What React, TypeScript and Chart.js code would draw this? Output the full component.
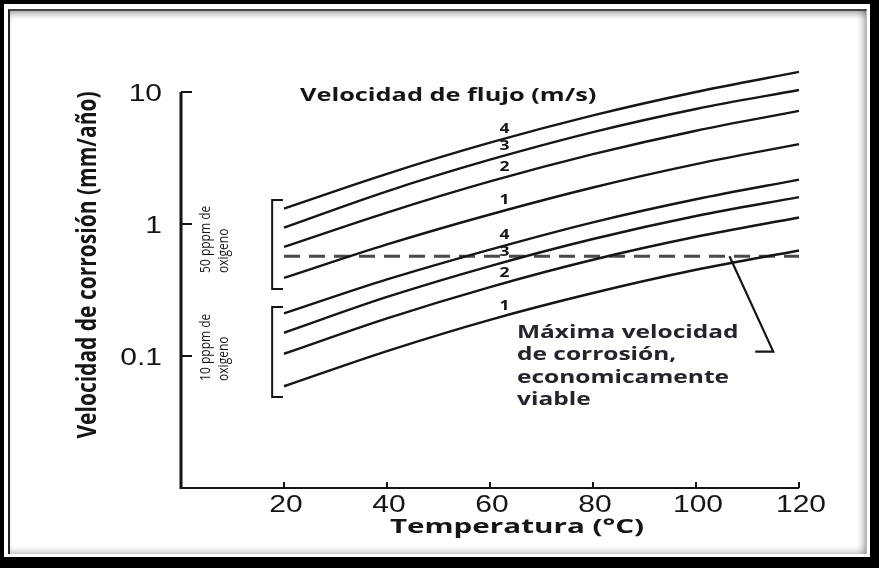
import { useEffect, useRef } from "react";
import { Chart, registerables } from "chart.js";

Chart.register(...registerables);

// Temperature (°C) at which each curve is read
const temperatures = [20, 40, 60, 80, 100, 120];

// Corrosion rate (mm/año), 50 ppm oxygen, flow velocity 4..1 m/s
const o50_v4 = [1.31, 2.4, 4.13, 6.65, 10.0, 14.2];
const o50_v3 = [0.94, 1.77, 3.07, 4.97, 7.44, 10.35];
const o50_v2 = [0.67, 1.22, 2.1, 3.38, 5.09, 7.19];
const o50_v1 = [0.39, 0.7, 1.18, 1.89, 2.84, 4.03];

// Corrosion rate (mm/año), 10 ppm oxygen, flow velocity 4..1 m/s
const o10_v4 = [0.21, 0.38, 0.64, 1.03, 1.54, 2.17];
const o10_v3 = [0.15, 0.28, 0.48, 0.77, 1.15, 1.6];
const o10_v2 = [0.104, 0.193, 0.333, 0.536, 0.8, 1.12];
const o10_v1 = [0.059, 0.109, 0.188, 0.3, 0.45, 0.63];

const flowLabels = ["4", "3", "2", "1", "4", "3", "2", "1"];

// Economic limit (dashed line)
const limitRate = 0.57;
const limitRange = [20, 120];

// Axis ticks
const xTicks = [20, 40, 60, 80, 100, 120];
const xTickLabels = ["20", "40", "60", "80", "100", "120"];
const yTicks = [10, 1, 0.1];
const yTickLabels = ["10", "1", "0.1"];

// Leader from the dashed line to the note (temperature, rate)
const leaderTemps = [106.5, 115, 111.5];
const leaderRates = [0.57, 0.108, 0.108];

// Oxygen group brackets (rate span)
const bracketSpans = [
  [1.52, 0.322],
  [0.235, 0.049],
];
const bracketTemps = [17.7, 19.8];
const groupLines = [
  ["50 pppm de", "oxigeno"],
  ["10 pppm de", "oxigeno"],
];

const noteLines = ["Máxima velocidad", "de corrosión,", "economicamente", "viable"];

const INK = "#151515";

function text(
  ctx: CanvasRenderingContext2D,
  s: string,
  x: number,
  y: number,
  font: string,
  align: CanvasTextAlign,
  color: string,
  sx = 1.25,
  rotate = false
) {
  ctx.save();
  ctx.translate(x, y);
  ctx.scale(sx, 1);
  if (rotate) ctx.rotate(-Math.PI / 2);
  ctx.font = font;
  ctx.fillStyle = color;
  ctx.textAlign = align;
  ctx.textBaseline = "middle";
  ctx.fillText(s, 0, 0);
  ctx.restore();
}

const decorations = {
  id: "decorations",
  afterDatasetsDraw(chart: any) {
    const { ctx, chartArea, scales } = chart;
    const xs = scales.x;
    const ys = scales.y;
    const { left, right, top, bottom } = chartArea;
    ctx.save();
    ctx.strokeStyle = INK;
    ctx.lineCap = "butt";

    // axes
    ctx.lineWidth = 3;
    ctx.beginPath();
    ctx.moveTo(left, top);
    ctx.lineTo(left, bottom + 1);
    ctx.stroke();
    ctx.lineWidth = 2;
    ctx.beginPath();
    ctx.moveTo(left, bottom);
    ctx.lineTo(right, bottom);
    ctx.stroke();

    // ticks pointing inward
    ctx.lineWidth = 2;
    yTicks.forEach((v, i) => {
      const y = ys.getPixelForValue(v);
      ctx.beginPath();
      ctx.moveTo(left, y);
      ctx.lineTo(left + 11, y);
      ctx.stroke();
      text(ctx, yTickLabels[i], left - 19, y + 2, "24px 'Liberation Sans'", "right", INK);
    });
    xTicks.forEach((v, i) => {
      const x = xs.getPixelForValue(v);
      ctx.beginPath();
      ctx.moveTo(x, bottom);
      ctx.lineTo(x, bottom - 6);
      ctx.stroke();
      text(ctx, xTickLabels[i], x + 2, bottom + 17, "24px 'Liberation Sans'", "center", INK);
    });

    // axis titles and heading
    text(ctx, "Temperatura (°C)", left + 336, bottom + 39, "bold 20px 'Open Sans'", "center", INK, 1.48);
    text(ctx, "Velocidad de corrosión (mm/año)", 88, 265, "bold 21px 'Open Sans'", "center", INK, 1.3, true);
    text(ctx, "Velocidad de flujo (m/s)", 300, 96, "bold 17px 'Open Sans'", "left", INK, 1.49);

    // oxygen group brackets and labels
    const bx0 = xs.getPixelForValue(bracketTemps[0]);
    const bx1 = xs.getPixelForValue(bracketTemps[1]);
    ctx.lineWidth = 2;
    bracketSpans.forEach((span, g) => {
      const y0 = ys.getPixelForValue(span[0]);
      const y1 = ys.getPixelForValue(span[1]);
      ctx.beginPath();
      ctx.moveTo(bx1, y0);
      ctx.lineTo(bx0, y0);
      ctx.lineTo(bx0, y1);
      ctx.lineTo(bx1, y1);
      ctx.stroke();
      const [l1, l2] = groupLines[g];
      text(ctx, l1, 206, y1 - 16, "12px 'Open Sans'", "left", INK, 1.2, true);
      text(ctx, l2, 224, y1 - 16, "12px 'Open Sans'", "left", INK, 1.2, true);
    });

    // flow velocity numbers on each curve
    const lx = xs.getPixelForValue(63);
    for (let d = 0; d < 8; d++) {
      const pts = chart.getDatasetMeta(d).data;
      const y = pts[2].y + 0.15 * (pts[3].y - pts[2].y);
      text(ctx, flowLabels[d], lx - 1, y - 10, "bold 14px 'Open Sans'", "center", INK);
    }

    // leader to the note
    ctx.lineWidth = 2.2;
    ctx.beginPath();
    leaderTemps.forEach((t, i) => {
      const x = xs.getPixelForValue(t);
      const y = ys.getPixelForValue(leaderRates[i]);
      if (i === 0) ctx.moveTo(x, y);
      else ctx.lineTo(x, y);
    });
    ctx.stroke();

    noteLines.forEach((s, i) => {
      text(ctx, s, 517, 333 + i * 22.5, "bold 17px 'Open Sans'", "left", "#24242c", 1.44);
    });
    ctx.restore();
  },
};

function series(values: number[]) {
  return values.map((v, i) => ({ x: temperatures[i], y: v }));
}

export default function App() {
  const ref = useRef<HTMLCanvasElement>(null);

  useEffect(() => {
    if (!ref.current) return;
    const curves = [o50_v4, o50_v3, o50_v2, o50_v1, o10_v4, o10_v3, o10_v2, o10_v1];
    const chart = new Chart(ref.current, {
      type: "line",
      data: {
        datasets: [
          ...curves.map((c, i) => ({
            label: `${i < 4 ? 50 : 10} ppm – ${flowLabels[i]} m/s`,
            data: series(c),
            borderColor: INK,
            borderWidth: 2.4,
            pointRadius: 0,
            tension: 0.4,
            cubicInterpolationMode: "monotone" as const,
            clip: false as any,
          })),
          {
            label: "Máxima velocidad de corrosión",
            data: limitRange.map((t) => ({ x: t, y: limitRate })),
            borderColor: "#4a4a4a",
            borderWidth: 3,
            borderDash: [16, 9],
            pointRadius: 0,
            clip: false as any,
          },
        ],
      },
      options: {
        responsive: false,
        animation: false,
        layout: { padding: { left: 181, right: 80, top: 92, bottom: 80 } },
        scales: {
          x: { type: "linear", min: 0, max: 120, display: false },
          y: { type: "logarithmic", min: 0.01, max: 10, display: false },
        },
        plugins: { legend: { display: false }, tooltip: { enabled: false } },
      },
      plugins: [decorations],
    });
    return () => chart.destroy();
  }, []);

  return (
    <div style={{ position: "fixed", left: 0, top: 0, width: 879, height: 568, background: "#000" }}>
      <div style={{ position: "absolute", left: 4, top: 4, width: 866, height: 553, background: "#fff" }} />
      <div
        style={{
          position: "absolute",
          left: 8,
          top: 9,
          width: 856,
          height: 543,
          borderLeft: "2px solid #222",
          borderTop: "2px solid #444",
          borderRight: "1px solid #bbb",
          boxShadow:
            "inset 0 7px 6px -4px rgba(0,0,0,0.35), inset -7px 0 6px -4px rgba(0,0,0,0.3), inset 0 -7px 6px -4px rgba(0,0,0,0.2)",
        }}
      />
      <canvas ref={ref} width={879} height={568} style={{ position: "absolute", left: 0, top: 0 }} />
    </div>
  );
}
